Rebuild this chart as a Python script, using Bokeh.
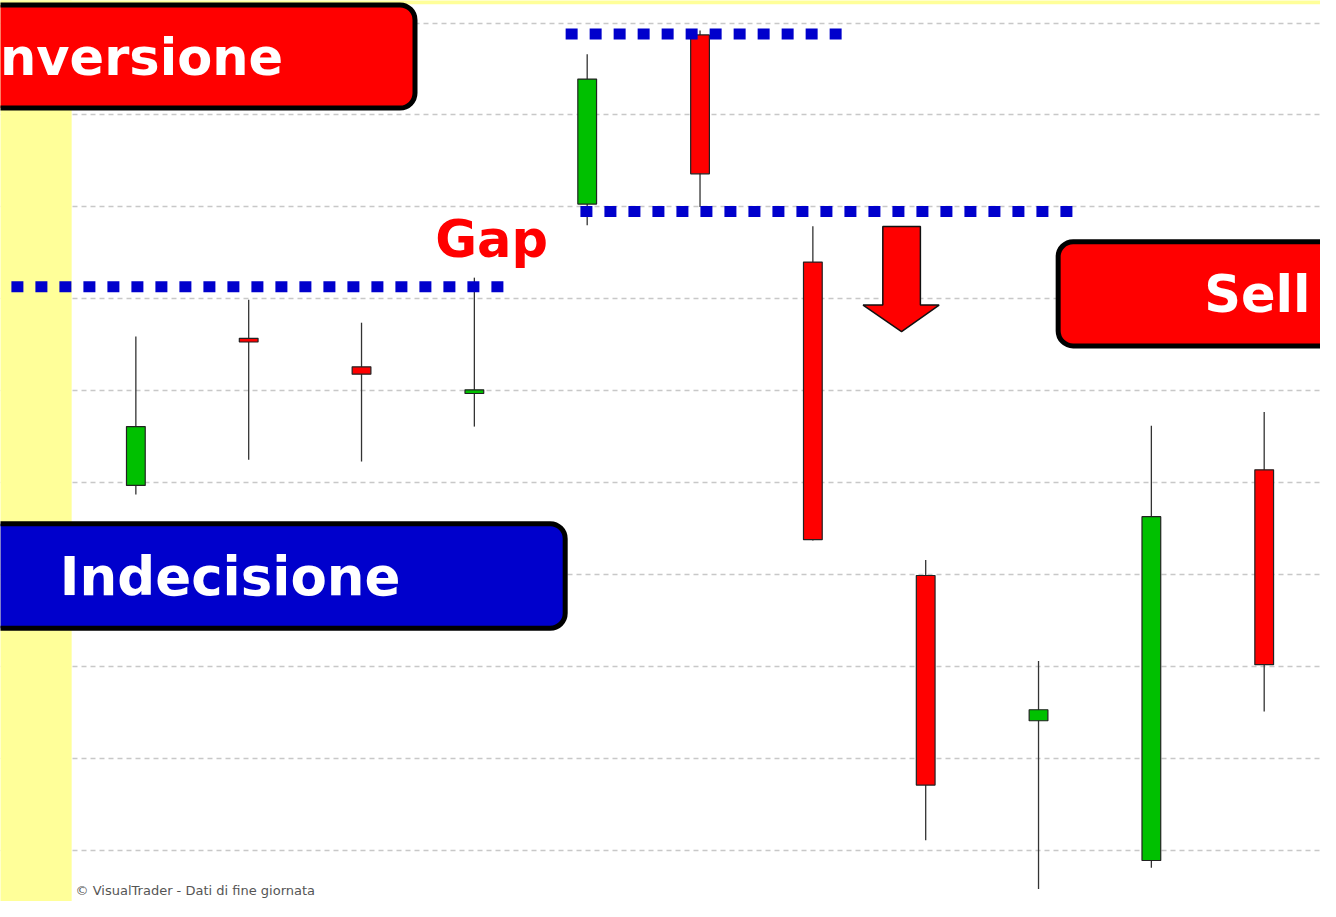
from bokeh.plotting import figure
from bokeh.models import BoxAnnotation, Label, Grid, FixedTicker, Range1d, ColumnDataSource
from bokeh.embed import file_html
from bokeh.resources import INLINE

# ---- candlestick data (price in grid units) ----
bars   = list(range(11))
opens  = [3.97, 5.57, 5.26, 4.97, 7.03, 8.87, 6.40, 2.99, 1.41, -0.11, 4.14]
highs  = [5.59, 5.99, 5.74, 6.23, 8.66, 8.92, 6.79, 3.16, 2.06, 4.62, 4.77]
lows   = [3.87, 4.25, 4.23, 4.61, 6.80, 7.00, 3.37, 0.11, -0.42, -0.19, 1.51]
closes = [4.61, 5.53, 5.18, 5.01, 8.39, 7.36, 3.38, 0.71, 1.53, 3.63, 2.02]

grid_levels = [0, 1, 2, 3, 4, 5, 6, 7, 8, 9]

# dotted support / resistance levels
level_y  = [6.13, 6.95, 8.88]
level_x0 = [-1.103, 3.940, 3.809]
level_x1 = [3.258, 8.301, 6.255]

# down arrow (annotation shape)
arrow_x = [6.62, 6.953, 6.953, 7.119, 6.786, 6.445, 6.62]
arrow_y = [6.787, 6.787, 5.932, 5.932, 5.643, 5.932, 5.932]

# label boxes: text, box left/right/top/bottom, fill
box_text   = ["Inversione", "Indecisione", "Sell"]
box_left   = [-3.0, -3.0, 8.174]
box_right  = [2.474, 3.805, 12.0]
box_top    = [9.197, 3.554, 6.621]
box_bottom = [8.075, 2.416, 5.488]
box_fill   = ["#FF0000", "#0000CC", "#FF0000"]
text_x     = [1.305, -0.674, 10.411]
text_y     = [8.630, 2.975, 6.050]
text_align = ["right", "left", "right"]
text_size  = ["51px", "53px", "51px"]

XR = (-1.1996, 10.499)
YR = (-0.556, 9.245)

p = figure(width=1320, height=901, output_backend="svg", toolbar_location=None,
           x_range=Range1d(*XR), y_range=Range1d(*YR),
           x_axis_location=None, y_axis_location=None,
           min_border=0, outline_line_color=None)
p.background_fill_color = "white"
p.border_fill_color = "white"
p.xgrid.visible = False
p.ygrid.visible = False

p.add_layout(Grid(dimension=1, ticker=FixedTicker(ticks=grid_levels),
                  grid_line_color="#C8C8C8", grid_line_width=1.5,
                  grid_line_dash="5 4"))

# yellow frame strips
p.quad(left=[-3, -3], right=[-0.569, 12], bottom=[-3, 9.203], top=[12, 12],
       fill_color="#FFFF99", line_color=None)

# candles
up = [c >= o for o, c in zip(opens, closes)]
src = ColumnDataSource(dict(
    x=bars, high=highs, low=lows,
    top=[max(o, c) for o, c in zip(opens, closes)],
    bottom=[min(o, c) for o, c in zip(opens, closes)],
    color=["#00C000" if u else "#FF0000" for u in up],
))
p.segment(x0="x", y0="high", x1="x", y1="low", source=src,
          line_color="#333333", line_width=1.3)
p.vbar(x="x", width=0.166, top="top", bottom="bottom", source=src,
       fill_color="color", line_color="#222222", line_width=1.2)

# dotted levels
p.segment(x0=level_x0, y0=level_y, x1=level_x1, y1=level_y,
          line_color="#0000CC", line_width=11, line_dash="12 12", line_cap="butt")

# arrow
p.patch(arrow_x, arrow_y, fill_color="#FF0000", line_color="#111111", line_width=1.5)

# Gap label
p.add_layout(Label(x=2.653, y=6.650, text="Gap", text_color="#FF0000",
                   text_font="DejaVu Sans", text_font_style="bold",
                   text_font_size="51px", text_align="left",
                   text_baseline="alphabetic"))

# boxes with labels
for t, l, r, tp, b, f, tx, ty, ta, ts in zip(box_text, box_left, box_right, box_top,
                                              box_bottom, box_fill, text_x, text_y,
                                              text_align, text_size):
    p.add_layout(BoxAnnotation(left=l, right=r, top=tp, bottom=b,
                               fill_color=f, fill_alpha=1.0,
                               line_color="black", line_width=5, line_alpha=1.0,
                               border_radius=15))
    p.add_layout(Label(x=tx, y=ty, text=t, text_color="white",
                       text_font="DejaVu Sans", text_font_style="bold",
                       text_font_size=ts, text_align=ta,
                       text_baseline="alphabetic"))

p.add_layout(Label(x=-0.534, y=-0.44, text="\u00a9 VisualTrader - Dati di fine giornata",
                   text_color="#555555", text_font="DejaVu Sans",
                   text_font_size="13px", text_align="left",
                   text_baseline="alphabetic"))

open("out.html", "w", encoding="utf-8").write(file_html(p, INLINE))
